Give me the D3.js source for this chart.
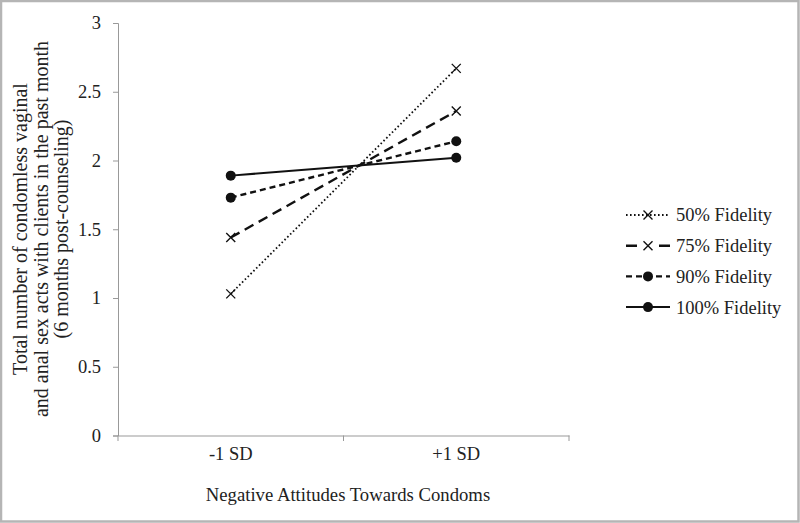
<!DOCTYPE html>
<html><head><meta charset="utf-8">
<script src="https://cdn.jsdelivr.net/npm/d3@7"></script>
<style>body{margin:0;background:#fff}svg{display:block}</style>
</head><body><svg id="c" width="800" height="523"></svg>
<script>
const categories = ["-1 SD", "+1 SD"];
const seriesNames = ["50% Fidelity", "75% Fidelity", "90% Fidelity", "100% Fidelity"];
const fid50 = [1.03, 2.67];
const fid75 = [1.44, 2.36];
const fid90 = [1.73, 2.14];
const fid100 = [1.89, 2.02];
const yTicks = [0, 0.5, 1, 1.5, 2, 2.5, 3];

const FONT = "'Liberation Serif', 'DejaVu Serif', serif";

const series = [
  {name: seriesNames[0], values: fid50, dash: "1.6,2.4", legDash: "1.6,2.4", marker: "x", width: 1.8},
  {name: seriesNames[1], values: fid75, dash: "10,6", legDash: "11,22", marker: "x", width: 2.4},
  {name: seriesNames[2], values: fid90, dash: "6,4", legDash: "6,4", marker: "dot", width: 2.4},
  {name: seriesNames[3], values: fid100, dash: null, legDash: null, marker: "dot", width: 2}
];

const svg = d3.select("#c").attr("font-family", FONT);
svg.append("rect").attr("x",1).attr("y",1).attr("width",797.5).attr("height",520.5)
  .attr("fill","#fff").attr("stroke","#b5b5b5").attr("stroke-width",2.5);

const x = d3.scaleBand().domain(categories).range([118, 569]);
const y = d3.scaleLinear().domain([0,3]).range([435.5, 23]);

const yAxis = svg.append("g").attr("transform","translate(118,0)")
  .call(d3.axisLeft(y).tickValues(yTicks).tickFormat(d3.format("")).tickSize(5).tickPadding(12));
yAxis.attr("font-family", FONT).attr("font-size", 18.5);
yAxis.select(".domain").attr("stroke","#999");
yAxis.selectAll(".tick line").attr("stroke","#999");
yAxis.selectAll(".tick text").attr("fill","#222");

const xAxis = svg.append("g").attr("transform","translate(0,435.5)")
  .call(d3.axisBottom(x).tickSize(0).tickPadding(10));
xAxis.attr("font-family", FONT).attr("font-size", 18.5);
xAxis.select(".domain").attr("stroke","#999");
xAxis.selectAll(".tick text").attr("fill","#222").attr("dy","0.8em");
const xr = x.range();
[xr[0], (xr[0]+xr[1])/2, xr[1]].forEach(v=>{
  svg.append("line").attr("x1",v).attr("x2",v).attr("y1",435.5).attr("y2",441).attr("stroke","#999");
});

svg.append("text").attr("x",348).attr("y",501).attr("text-anchor","middle").attr("fill","#222")
  .attr("font-size",18.7).text("Negative Attitudes Towards Condoms");

const yt = svg.append("text").attr("transform","translate(0,229) rotate(-90)").attr("text-anchor","middle")
  .attr("font-size",20).attr("fill","#222");
["Total number of condomless vaginal","and anal sex acts with clients in the past month","(6 months post-counseling)"].forEach((t,i)=>{
  yt.append("tspan").attr("x",0).attr("y",27 + i*20.5).text(t);
});

const line = d3.line().x((d,i)=>x(categories[i]) + x.bandwidth()/2).y(d=>y(d));

function marker(g, type, cx, cy) {
  if (type === "x") {
    const s = 4.5;
    g.append("path").attr("d",`M${cx-s},${cy-s}L${cx+s},${cy+s}M${cx-s},${cy+s}L${cx+s},${cy-s}`)
      .attr("stroke","#111").attr("stroke-width",1.4).attr("fill","none");
  } else {
    g.append("circle").attr("cx",cx).attr("cy",cy).attr("r",5).attr("fill","#111");
  }
}

series.forEach(s=>{
  const g = svg.append("g");
  g.append("path").datum(s.values).attr("d",line).attr("fill","none").attr("stroke","#111")
    .attr("stroke-width",s.width).attr("stroke-dasharray",s.dash);
  s.values.forEach((v,i)=>marker(g, s.marker, x(categories[i]) + x.bandwidth()/2, y(v)));
});

// legend
const leg = svg.append("g");
series.forEach((s,i)=>{
  const ly = 215 + i*30.7;
  const g = leg.append("g");
  g.append("line").attr("x1",626).attr("x2",670).attr("y1",ly).attr("y2",ly).attr("stroke","#111")
    .attr("stroke-width",s.width).attr("stroke-dasharray",s.legDash);
  marker(g, s.marker, 648, ly);
  g.append("text").attr("x",676).attr("y",ly).attr("dy","0.35em").attr("font-size",18.5).attr("fill","#222").text(s.name);
});
</script></body></html>
